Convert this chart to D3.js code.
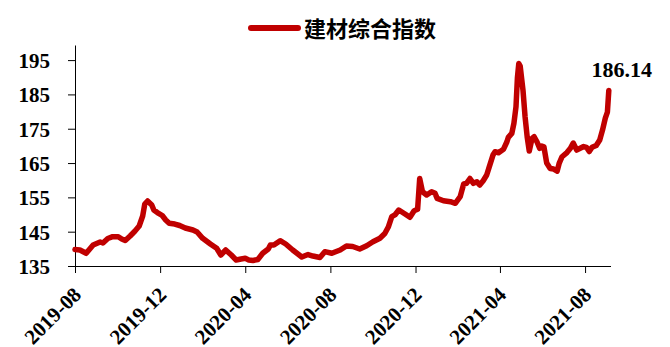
<!DOCTYPE html>
<html>
<head>
<meta charset="utf-8">
<script src="https://cdn.jsdelivr.net/npm/d3@7/dist/d3.min.js"></script>
<style>
  html, body { margin: 0; padding: 0; background: #fff; }
  svg { display: block; }
</style>
</head>
<body>
<svg id="chart" width="670" height="347"></svg>
<script>
// 建材综合指数 readings
const seriesName = "建材综合指数";
const dates = [
  "2019-08-01","2019-08-08","2019-08-17","2019-08-27","2019-09-06","2019-09-10","2019-09-17","2019-09-24",
  "2019-10-02","2019-10-07","2019-10-12","2019-10-19","2019-10-26","2019-11-01","2019-11-06","2019-11-09",
  "2019-11-13","2019-11-19","2019-11-22","2019-11-27","2019-12-04","2019-12-09","2019-12-14","2019-12-22",
  "2019-12-29","2020-01-06","2020-01-17","2020-01-23","2020-01-31","2020-02-11","2020-02-20","2020-02-26",
  "2020-03-04","2020-03-12","2020-03-19","2020-03-26","2020-04-01","2020-04-06","2020-04-12","2020-04-19",
  "2020-04-26","2020-05-04","2020-05-07","2020-05-12","2020-05-21","2020-05-29","2020-06-08","2020-06-21",
  "2020-06-30","2020-07-07","2020-07-17","2020-07-24","2020-08-03","2020-08-15","2020-08-24","2020-09-02",
  "2020-09-12","2020-09-22","2020-10-01","2020-10-11","2020-10-18","2020-10-23","2020-10-28","2020-11-02",
  "2020-11-07","2020-11-16","2020-11-23","2020-11-29","2020-12-04","2020-12-07","2020-12-11","2020-12-17",
  "2020-12-24","2020-12-29","2021-01-01","2021-01-10","2021-01-20","2021-01-27","2021-02-03","2021-02-08",
  "2021-02-12","2021-02-17","2021-02-22","2021-02-27","2021-03-03","2021-03-08","2021-03-13","2021-03-16",
  "2021-03-22","2021-03-25","2021-03-30","2021-04-06","2021-04-11","2021-04-13","2021-04-18","2021-04-21",
  "2021-04-24","2021-04-26","2021-04-28","2021-04-30","2021-05-04","2021-05-07","2021-05-10","2021-05-13",
  "2021-05-17","2021-05-20","2021-05-24","2021-05-28","2021-05-31","2021-06-03","2021-06-07","2021-06-12",
  "2021-06-17","2021-06-22","2021-06-25","2021-06-29","2021-07-06","2021-07-11","2021-07-15","2021-07-20",
  "2021-07-25","2021-07-30","2021-08-03","2021-08-07","2021-08-11","2021-08-17","2021-08-22","2021-08-26",
  "2021-08-30","2021-09-02","2021-09-04"
];
const values = [
  139.81,139.66,138.70,141.12,141.99,141.70,143.01,143.54,
  143.54,142.87,142.43,143.74,145.20,146.65,149.57,153.06,
  153.93,152.77,151.31,150.58,149.71,148.40,147.44,147.23,
  146.80,146.07,145.49,144.90,143.07,141.41,140.16,138.20,
  139.66,138.20,136.75,137.04,137.24,136.75,136.60,136.89,
  138.70,139.95,141.12,141.12,142.37,141.41,139.66,137.62,
  138.35,137.91,137.48,139.17,138.70,139.66,140.83,140.68,
  139.95,140.91,142.08,143.07,144.47,146.36,149.42,150.00,
  151.31,150.15,149.19,151.11,151.52,160.49,156.64,155.68,
  156.64,156.18,154.72,154.02,153.73,153.26,155.19,158.89,
  159.09,160.49,159.09,159.56,158.59,159.85,161.51,163.46,
  167.33,168.30,168.00,169.00,171.21,172.49,173.66,176.57,
  181.40,189.76,193.99,193.26,186.27,178.49,172.67,168.50,
  172.20,172.67,171.21,169.29,169.96,169.75,165.00,163.40,
  163.26,162.67,165.00,166.84,168.06,169.29,170.83,168.79,
  169.29,169.81,169.58,168.35,169.58,170.10,171.70,174.62,
  178.11,179.86,186.14
];
const yTicks = [135, 145, 155, 165, 175, 185, 195];
const xTicks = ["2019-08-01","2019-12-01","2020-04-01","2020-08-01","2020-12-01","2021-04-01","2021-08-01"];

const parse = d3.timeParse("%Y-%m-%d");
const fmt = d3.timeFormat("%Y-%m");
const data = dates.map((d, i) => ({ date: parse(d), value: values[i] }));

const svg = d3.select("#chart");
const lineColor = "#c00000";
const serif = "'Liberation Serif', 'Times New Roman', serif";

const x = d3.scaleTime()
  .domain([parse("2019-08-01"), parse("2021-09-05")])
  .range([75, 609.5]);
const y = d3.scaleLinear()
  .domain([135, 199.4])
  .range([266, 45]);

// x axis
const xAxis = svg.append("g")
  .attr("transform", "translate(0,266)")
  .call(d3.axisBottom(x)
    .tickValues(xTicks.map(parse))
    .tickFormat(fmt)
    .tickSize(7)
    .tickSizeOuter(0));
xAxis.select(".domain").attr("stroke", "#000").attr("d", "M68,0.5H611");
xAxis.selectAll(".tick line").attr("stroke", "#000");
xAxis.selectAll(".tick text")
  .attr("font-family", serif)
  .attr("font-weight", "bold")
  .attr("font-size", 21)
  .attr("fill", "#000")
  .attr("text-anchor", "end")
  .attr("transform", "translate(7,30) rotate(-45)")
  .attr("y", 0)
  .attr("dy", 0);

// y axis
const yAxis = svg.append("g")
  .attr("transform", "translate(75,0)")
  .call(d3.axisLeft(y)
    .tickValues(yTicks)
    .tickSize(7)
    .tickSizeOuter(0));
yAxis.select(".domain").attr("stroke", "#000");
yAxis.selectAll(".tick line").attr("stroke", "#000");
yAxis.selectAll(".tick text")
  .attr("font-family", serif)
  .attr("font-weight", "bold")
  .attr("font-size", 21)
  .attr("fill", "#000")
  .attr("x", -25)
  .attr("dy", "0.35em");

// series line
const line = d3.line()
  .x(d => x(d.date))
  .y(d => y(d.value));
svg.append("path")
  .datum(data)
  .attr("fill", "none")
  .attr("stroke", lineColor)
  .attr("stroke-width", 5.5)
  .attr("stroke-linejoin", "round")
  .attr("stroke-linecap", "round")
  .attr("d", line);

// last value label
const last = data[data.length - 1];
svg.append("text")
  .attr("x", x(last.date) + 13)
  .attr("y", y(last.value) - 14)
  .attr("text-anchor", "middle")
  .attr("font-family", serif)
  .attr("font-weight", "bold")
  .attr("font-size", 22)
  .attr("fill", "#000")
  .text(last.value.toFixed(2));

// legend
const legend = svg.append("g");
legend.append("line")
  .attr("x1", 251).attr("x2", 298)
  .attr("y1", 28).attr("y2", 28)
  .attr("stroke", lineColor)
  .attr("stroke-width", 6)
  .attr("stroke-linecap", "round");
legend.append("text")
  .attr("x", 304)
  .attr("y", 29)
  .attr("dy", "0.36em")
  .attr("font-family", "'Noto Sans CJK SC', sans-serif")
  .attr("font-weight", "bold")
  .attr("font-size", 22)
  .attr("fill", "#000")
  .text(seriesName);
</script>
</body>
</html>
